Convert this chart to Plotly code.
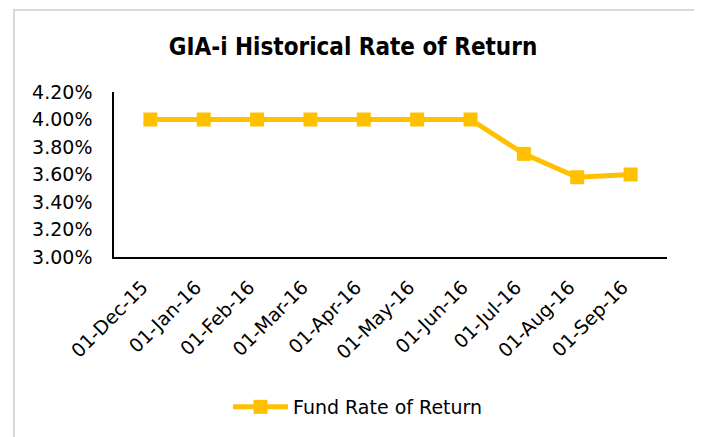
import plotly.graph_objects as go

dates = ["01-Dec-15", "01-Jan-16", "01-Feb-16", "01-Mar-16", "01-Apr-16",
         "01-May-16", "01-Jun-16", "01-Jul-16", "01-Aug-16", "01-Sep-16"]
rates = [0.0400, 0.0400, 0.0400, 0.0400, 0.0400, 0.0400, 0.0400, 0.0375, 0.0358, 0.0360]
series_name = "Fund Rate of Return"
title_text = "GIA-i Historical Rate of Return"

OFF = 8  # page body margin
W, H = 702, 437
L, R, T, B = 114 - OFF, 43, 92 - OFF, 437 - (257 - OFF)
pw, ph = W - L - R, H - T - B

def px_x(p):
    return (p - OFF - L) / pw

def px_y(p):
    return (H - B - (p - OFF)) / ph

fig = go.Figure()
fig.add_trace(go.Scatter(
    x=dates, y=rates, name=series_name, mode="lines+markers",
    line=dict(color="#FFC000", width=5),
    marker=dict(symbol="square", size=14, color="#FFC000"),
))

fig.update_layout(
    width=W, height=H,
    margin=dict(l=L, r=R, t=T, b=B),
    paper_bgcolor="white", plot_bgcolor="white",
    font=dict(family="DejaVu Sans", size=19, color="#000000"),
    title=dict(text="<b>" + title_text + "</b>", x=(353 - OFF) / W, xanchor="center",
               y=1 - (47 - OFF) / H, yanchor="middle", yref="container",
               font=dict(family="DejaVu Sans Condensed, DejaVu Sans", size=24, color="#000000")),
    showlegend=True,
    legend=dict(orientation="h", x=px_x(228), xanchor="left", y=px_y(407), yanchor="middle",
                itemwidth=55, font=dict(size=19), bgcolor="rgba(0,0,0,0)"),
    xaxis=dict(type="category", showline=True, linecolor="#000000", linewidth=1.5,
               showgrid=False, ticks="", tickangle=-45, tickfont=dict(size=19),
               ticklabelstandoff=10, ticklabelshift=-8),
    yaxis=dict(range=[0.03, 0.042], dtick=0.002, tick0=0.03, tickformat=".2%",
               showline=True, linecolor="#000000", linewidth=1.5, showgrid=False,
               ticks="", zeroline=False, tickfont=dict(size=19), ticklabelstandoff=16),
    shapes=[dict(type="rect", xref="paper", yref="paper",
                 x0=px_x(14), x1=px_x(695), y0=px_y(450), y1=px_y(10),
                 line=dict(color="#D9D9D9", width=2), fillcolor="rgba(0,0,0,0)", layer="below")],
)

fig.write_html("out.html")
